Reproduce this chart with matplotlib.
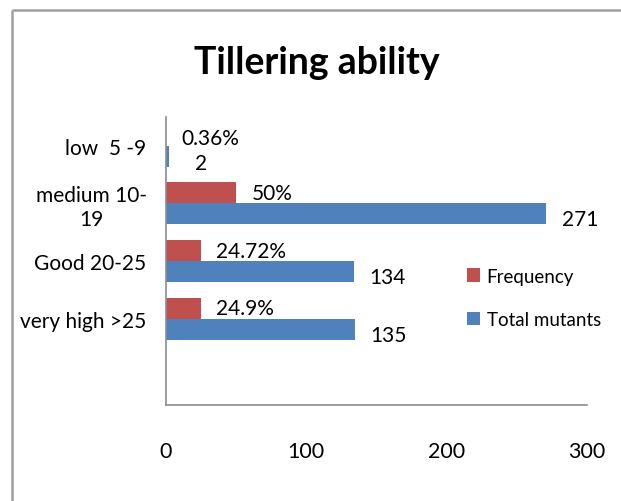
import numpy as np
import matplotlib
matplotlib.use('Agg')
import matplotlib.pyplot as plt
from matplotlib.lines import Line2D

# data
categories = ['low  5 -9', 'medium 10-\n19', 'Good 20-25', 'very high >25', '']
frequency = [0.36, 50, 24.72, 24.9]
freq_labels = ['0.36%', '50%', '24.72%', '24.9%']
total_mutants = [2, 271, 134, 135]
xticks = [0, 100, 200, 300]

red = '#C0504D'
blue = '#4F81BD'
grey = '#8C8C8C'

plt.rcParams['font.family'] = ['Lato', 'DejaVu Sans']

fig = plt.figure(figsize=(6.21, 5.02), dpi=100)
ax = fig.add_axes([0.2673, 0.1912, 0.678, 0.5737])

y = np.arange(len(frequency))
h = 0.365
ax.barh(y - h/2, frequency, height=h, color=red, label='Frequency')
ax.barh(y + h/2, total_mutants, height=h, color=blue, label='Total mutants')

# data labels
for i, (v, s) in enumerate(zip(frequency, freq_labels)):
	dx, dy = 11, 0
	if i == 0:
		dy = -2
	ax.annotate(s, (v, i - h/2), xytext=(dx, dy), textcoords='offset points',
		va='center', ha='left', fontsize=15)
for i, v in enumerate(total_mutants):
	dx, dy = 11, -4
	if i == 0:
		dx, dy = 19, -5
	ax.annotate(str(v), (v, i + h/2), xytext=(dx, dy), textcoords='offset points',
		va='center', ha='left', fontsize=15)

ax.set_xlim(0, 300)
ax.set_ylim(len(categories) - 0.5, -0.5)
ax.set_xticks(xticks)
ax.set_xticklabels([str(t) for t in xticks], fontsize=15.5)
ax.set_yticks(np.arange(len(categories)))
ax.set_yticklabels(categories, fontsize=15, multialignment='center')
ax.tick_params(axis='both', length=0)
ax.tick_params(axis='x', pad=26)
ax.tick_params(axis='y', pad=14)

for side in ['top', 'right']:
	ax.spines[side].set_visible(False)
for side in ['left', 'bottom']:
	ax.spines[side].set_color(grey)
	ax.spines[side].set_linewidth(1.2)

fig.text(0.51, 0.874, 'Tillering ability', ha='center', va='center',
	fontsize=27, fontweight='bold')

ax.legend(loc='center left', bbox_to_anchor=(450/621, 1 - 299/502),
	bbox_transform=fig.transFigure, frameon=False, fontsize=13.5,
	handlelength=0.7, handleheight=0.75, handletextpad=0.35, labelspacing=1.4)

# outer frame (top and left edges only)
fig.add_artist(Line2D([12/621, 12/621], [0, 1 - 11/502], transform=fig.transFigure,
	color='#A0A0A0', lw=1.8, solid_capstyle='butt'))
fig.add_artist(Line2D([12/621, 1], [1 - 11/502, 1 - 11/502], transform=fig.transFigure,
	color='#A0A0A0', lw=1.8, solid_capstyle='butt'))

fig.savefig('out.png', dpi=100)
